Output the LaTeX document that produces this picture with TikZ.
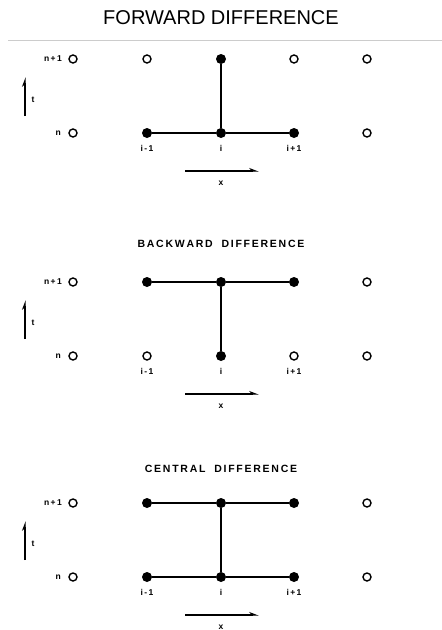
\documentclass[tikz,border=0pt]{standalone}
\usepackage{fontspec}
\setmainfont{Liberation Sans}
\usetikzlibrary{arrows.meta}
\begin{document}
\begin{tikzpicture}[x=1pt,y=-1pt,
  full/.style={circle,fill=black,inner sep=0pt,minimum size=10pt},
  open/.style={circle,draw=black,line width=1.4pt,inner sep=0pt,minimum size=8pt},
  link/.style={line width=1.5pt},
  lbl/.style={font=\bfseries\fontsize{8.5}{10}\selectfont,inner sep=0pt},
  ptitle/.style={font=\bfseries\fontsize{10.5}{12}\selectfont,inner sep=0pt},
  axis/.style={line width=1.6pt,-{Stealth[harpoon,length=8pt,width=6pt]}}]
\useasboundingbox (0,0) rectangle (442,630);

% heading and rule
\node[font=\fontsize{20}{24}\selectfont,inner sep=0pt] (head) at (221,18) {FORWARD DIFFERENCE};
\draw[black!20,line width=0.8pt] (8,40) coordinate (r1) -- (442,40) coordinate (r2);

% one panel: #1 name prefix, #2 y of row n+1
\newcommand\gridpanel[2]{%
  \begin{scope}[yshift=-#2pt,name prefix=#1-]
    \node[open] (l1) at (73,0) {};
    \node[open] (l0) at (73,74) {};
    \node[lbl,anchor=east] (ln1) at (62,0) {n\,+\,1};
    \node[lbl,anchor=east] (ln0) at (61,74) {n};
    \coordinate (tb) at (25,57);
    \coordinate (tt) at (25,18);
    \draw[axis] (tb) -- (tt);
    \node[lbl] (tl) at (33,41) {t};
    \node[open] (r1) at (367,0) {};
    \node[open] (r0) at (367,74) {};
    \coordinate (xa) at (185,112);
    \coordinate (xb) at (259,112);
    \draw[axis] (xa) -- (xb);
    \node[lbl] (xl) at (221,124) {x};
    \node[lbl] (im) at (147,89) {i\,-\,1};
    \node[lbl] (ic) at (221,89) {i};
    \node[lbl] (ip) at (294,89) {i\,+\,1};
  \end{scope}}

% forward difference
\gridpanel{f}{59}
\begin{scope}[yshift=-59pt,name prefix=f-]
  \node[open] (a1) at (147,0) {};
  \node[full] (b1) at (221,0) {};
  \node[open] (c1) at (294,0) {};
  \node[full] (a0) at (147,74) {};
  \node[full] (b0) at (221,74) {};
  \node[full] (c0) at (294,74) {};
  \draw[link] (a0) -- (b0) -- (c0);
  \draw[link] (b0) -- (b1);
\end{scope}

% backward difference
\node[ptitle] (bt) at (221,244) {B\,A\,C\,K\,W\,A\,R\,D\ \ \ D\,I\,F\,F\,E\,R\,E\,N\,C\,E};
\gridpanel{b}{282}
\begin{scope}[yshift=-282pt,name prefix=b-]
  \node[full] (a1) at (147,0) {};
  \node[full] (b1) at (221,0) {};
  \node[full] (c1) at (294,0) {};
  \node[open] (a0) at (147,74) {};
  \node[full] (b0) at (221,74) {};
  \node[open] (c0) at (294,74) {};
  \draw[link] (a1) -- (b1) -- (c1);
  \draw[link] (b1) -- (b0);
\end{scope}

% central difference
\node[ptitle] (ct) at (221,469) {C\,E\,N\,T\,R\,A\,L\ \ \ D\,I\,F\,F\,E\,R\,E\,N\,C\,E};
\gridpanel{c}{503}
\begin{scope}[yshift=-503pt,name prefix=c-]
  \node[full] (a1) at (147,0) {};
  \node[full] (b1) at (221,0) {};
  \node[full] (c1) at (294,0) {};
  \node[full] (a0) at (147,74) {};
  \node[full] (b0) at (221,74) {};
  \node[full] (c0) at (294,74) {};
  \draw[link] (a1) -- (b1) -- (c1);
  \draw[link] (a0) -- (b0) -- (c0);
  \draw[link] (b1) -- (b0);
\end{scope}
\end{tikzpicture}
\end{document}
